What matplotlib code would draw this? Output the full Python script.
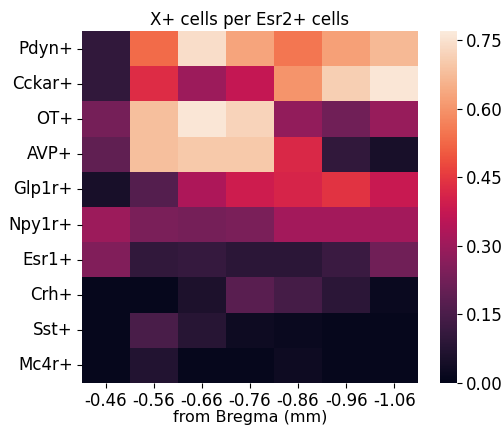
import matplotlib
matplotlib.use("Agg")
import matplotlib.pyplot as plt
import seaborn as sns
import numpy as np

rows = ["Pdyn+", "Cckar+", "OT+", "AVP+", "Glp1r+", "Npy1r+", "Esr1+", "Crh+", "Sst+", "Mc4r+"]
cols = ["-0.46", "-0.56", "-0.66", "-0.76", "-0.86", "-0.96", "-1.06"]

pdyn = [0.10, 0.53, 0.74, 0.63, 0.55, 0.62, 0.67]
cckar = [0.10, 0.43, 0.30, 0.37, 0.60, 0.71, 0.76]
ot = [0.23, 0.68, 0.76, 0.72, 0.28, 0.22, 0.29]
avp = [0.19, 0.68, 0.70, 0.70, 0.42, 0.10, 0.05]
glp1r = [0.05, 0.17, 0.33, 0.39, 0.41, 0.44, 0.38]
npy1r = [0.30, 0.24, 0.23, 0.24, 0.31, 0.31, 0.31]
esr1 = [0.25, 0.10, 0.11, 0.09, 0.09, 0.12, 0.22]
crh = [0.01, 0.01, 0.06, 0.18, 0.14, 0.09, 0.02]
sst = [0.01, 0.15, 0.08, 0.03, 0.02, 0.01, 0.01]
mc4r = [0.01, 0.07, 0.01, 0.01, 0.03, 0.01, 0.01]

data = np.array([pdyn, cckar, ot, avp, glp1r, npy1r, esr1, crh, sst, mc4r])

fig = plt.figure(figsize=(5.02, 4.25), dpi=100)
ax = fig.add_axes([0.163, 0.099, 0.670, 0.828])
cax = fig.add_axes([0.876, 0.099, 0.034, 0.828])
sns.heatmap(data, ax=ax, cbar_ax=cax, cmap="rocket", vmin=0, vmax=0.77,
            xticklabels=cols, yticklabels=rows)
ax.set_title("X+ cells per Esr2+ cells", fontsize=12, pad=4)
ax.set_xlabel("from Bregma (mm)", fontsize=11.5, labelpad=0)
ax.tick_params(axis="both", labelsize=12, pad=3)
plt.setp(ax.get_yticklabels(), rotation=0)
plt.setp(ax.get_xticklabels(), rotation=0)
cax.set_yticks([0, 0.15, 0.30, 0.45, 0.60, 0.75])
cax.set_yticklabels(["0.00", "0.15", "0.30", "0.45", "0.60", "0.75"])
cax.tick_params(labelsize=12, pad=3)
fig.savefig("out.png", dpi=100)
